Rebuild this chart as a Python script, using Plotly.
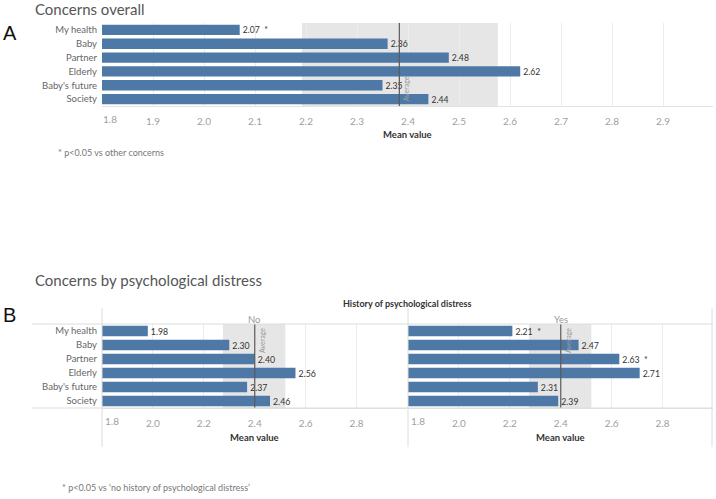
import plotly.graph_objects as go

# ---------------- data ----------------
categories = ["My health", "Baby", "Partner", "Elderly", "Baby's future", "Society"]
overall = [2.07, 2.36, 2.48, 2.62, 2.35, 2.44]
overall_sig = ["*", "", "", "", "", ""]
no_hist = [1.98, 2.30, 2.40, 2.56, 2.37, 2.46]
no_sig = ["", "", "", "", "", ""]
yes_hist = [2.21, 2.47, 2.63, 2.71, 2.31, 2.39]
yes_sig = ["*", "", "*", "", "", ""]
ticks_a = [1.8, 1.9, 2.0, 2.1, 2.2, 2.3, 2.4, 2.5, 2.6, 2.7, 2.8, 2.9]
ticks_b = [1.8, 2.0, 2.2, 2.4, 2.6, 2.8]
avg_a = 2.383
band_a = [2.192, 2.576]
avg_b = 2.40
band_b = [2.275, 2.52]
x_range = [1.8, 2.998]

# ---------------- helpers ----------------
W, H = 716, 499
def px(x):
    return x / W
def py(y):
    return 1 - y / H

FONT = "Lato"
BAR = "#4e79a7"
TICKC = "#a0a0a0"
LABC = "#666666"
GRID = "#ececec"

def lab(vals, sig):
    return [f"{v:.2f}" + (f"  {s}" if s else "") for v, s in zip(vals, sig)]

fig = go.Figure()
for vals, sig, xa, ya in [(overall, overall_sig, "x", "y"),
                          (no_hist, no_sig, "x2", "y2"),
                          (yes_hist, yes_sig, "x3", "y3")]:
    fig.add_trace(go.Bar(
        x=vals, y=categories, orientation="h", xaxis=xa, yaxis=ya,
        marker=dict(color=BAR, line=dict(width=0)),
        text=lab(vals, sig), textposition="outside",
        textfont=dict(family=FONT, size=10, color="#333333"),
        cliponaxis=False, showlegend=False, hoverinfo="skip"))

def xax(domain, ticks, anchor):
    # first label is drawn separately (nudged inside the panel, as in the original)
    return dict(domain=domain, range=x_range, tickvals=ticks,
                ticktext=[""] + [f"{t:.1f}" for t in ticks[1:]], anchor=anchor,
                showgrid=True, gridcolor=GRID, gridwidth=1, zeroline=False,
                showline=True, linecolor="#e2e2e2", linewidth=1,
                ticks="", ticklabelstandoff=6,
                tickfont=dict(family=FONT, size=10, color=TICKC), fixedrange=True)

def yax(domain, anchor, show):
    return dict(domain=domain, anchor=anchor, categoryorder="array",
                categoryarray=categories, autorange="reversed",
                showgrid=False, zeroline=False, showline=False, ticks="",
                showticklabels=show, ticklabelstandoff=4,
                tickfont=dict(family=FONT, size=9.5, color=LABC), fixedrange=True)

ya_dom = [py(106), py(23)]
yb_dom = [py(408), py(324)]

fig.update_layout(
    width=W, height=H, margin=dict(l=0, r=0, t=0, b=0),
    paper_bgcolor="white", plot_bgcolor="white",
    bargap=0.25, font=dict(family=FONT),
    xaxis=xax([px(102), px(713)], ticks_a, "y"),
    yaxis=yax(ya_dom, "x", True),
    xaxis2=xax([px(102), px(407)], ticks_b, "y2"),
    yaxis2=yax(yb_dom, "x2", True),
    xaxis3=xax([px(408), px(713)], ticks_b, "y3"),
    yaxis3=yax(yb_dom, "x3", False),
)

shapes = []
for xr, yr, avg, band in [("x", "y", avg_a, band_a), ("x2", "y2", avg_b, band_b),
                          ("x3", "y3", avg_b, band_b)]:
    shapes.append(dict(type="rect", xref=xr, yref=yr + " domain", x0=band[0], x1=band[1],
                       y0=0, y1=1, fillcolor="#e6e6e6", line=dict(width=0), layer="below"))
    shapes.append(dict(type="line", xref=xr, yref=yr + " domain", x0=avg, x1=avg,
                       y0=0, y1=1, line=dict(color="#5a5a5a", width=1.2), layer="above"))

# panel B frame lines
for yy in (324, 408):
    shapes.append(dict(type="line", xref="paper", yref="paper", x0=px(32), x1=px(713),
                       y0=py(yy), y1=py(yy), line=dict(color="#dcdcdc", width=1)))
for xx in (102, 408, 712):
    shapes.append(dict(type="line", xref="paper", yref="paper", x0=px(xx), x1=px(xx),
                       y0=py(308), y1=py(447), line=dict(color="#dcdcdc", width=1)))
fig.update_layout(shapes=shapes)

ann = []
def text(x, y, s, size, color, xanchor="left", bold=False, family=FONT, angle=0):
    ann.append(dict(x=px(x), y=py(y), xref="paper", yref="paper", text=("<b>%s</b>" % s) if bold else s,
                    showarrow=False, xanchor=xanchor, yanchor="middle", textangle=angle,
                    font=dict(family=family, size=size, color=color)))

text(33, 9, "Concerns overall", 15, "#555555")
text(1, 33, "A", 20, "#111111", family="Liberation Sans")
text(407.5, 135, "Mean value", 9.5, "#333333", xanchor="center", bold=True)
text(56, 152, "* p&lt;0.05 vs other concerns", 9, "#777777")
text(33, 280, "Concerns by psychological distress", 15, "#555555")
text(1, 315, "B", 20, "#111111", family="Liberation Sans")
text(407.5, 303, "History of psychological distress", 9, "#333333", xanchor="center", bold=True)
text(254.5, 319, "No", 9.5, "#999999", xanchor="center")
text(560.5, 319, "Yes", 9.5, "#999999", xanchor="center")
text(254.5, 437, "Mean value", 9.5, "#333333", xanchor="center", bold=True)
text(560.5, 437, "Mean value", 9.5, "#333333", xanchor="center", bold=True)
text(60, 487, "* p&lt;0.05 vs ‘no history of psychological distress’", 9, "#777777")

# first tick labels, nudged right inside each panel
for xr, yr, t, shift in [("x", "y", ticks_a[0], 8), ("x2", "y2", ticks_b[0], 10),
                         ("x3", "y3", ticks_b[0], 10)]:
    ann.append(dict(x=t, y=0, xref=xr, yref=yr + " domain", text=f"{t:.1f}", showarrow=False,
                    xanchor="center", yanchor="top", xshift=shift, yshift=-5,
                    font=dict(family=FONT, size=10, color=TICKC)))

# "Average" labels
ann.append(dict(x=avg_a, y=0.03, xref="x", yref="y domain", text="Average", showarrow=False,
                textangle=-90, xanchor="left", yanchor="bottom", xshift=1,
                font=dict(family=FONT, size=7, color="#999999")))
for xr in ("x2", "x3"):
    ann.append(dict(x=avg_b, y=0.98, xref=xr, yref=("y2" if xr == "x2" else "y3") + " domain",
                    text="Average", showarrow=False, textangle=-90, xanchor="left",
                    yanchor="top", xshift=1, font=dict(family=FONT, size=7, color="#999999")))
fig.update_layout(annotations=ann)

fig.write_html("out.html", config={"displayModeBar": False},
               post_script="document.body.style.margin='0';")
